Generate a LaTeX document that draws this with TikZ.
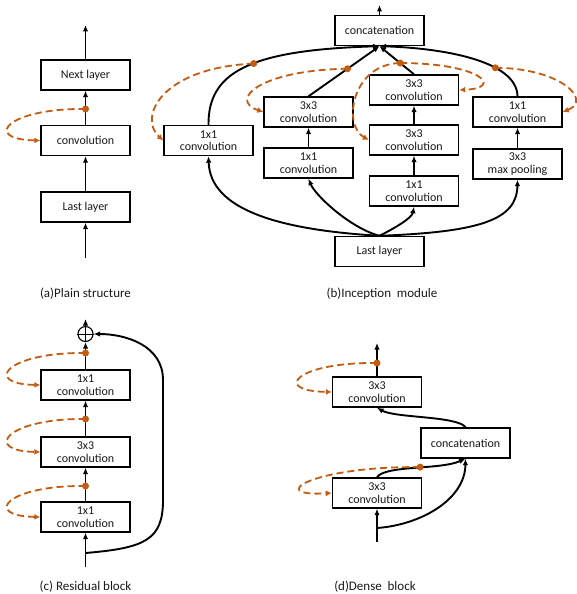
\documentclass[tikz,border=0pt]{standalone}
\usepackage{fontspec}
\setmainfont{Carlito}
\usetikzlibrary{arrows.meta}
\definecolor{fborange}{RGB}{197,90,17}

\begin{document}
\begin{tikzpicture}[x=1pt, y=-1pt,
    layer/.style={draw, line width=1.4pt, align=center, font=\fontsize{12}{12.5}\selectfont, text=black!90, minimum width=89pt, minimum height=30pt, inner sep=1pt},
    subcap/.style={font=\fontsize{13}{14}\selectfont, text=black!90},
    arr/.style={-{Latex[length=6.5pt,width=5.5pt]}, line width=1.9pt},
    fb/.style={-{Latex[length=6pt,width=6pt]}, line width=1.8pt, fborange, dash pattern=on 7pt off 4pt}
    ]
    \useasboundingbox (0,0) rectangle (576,594);

    % (a)
    \node[layer] (nextA) at (85.5,75) {Next layer};
    \node[layer] (convA) at (85.5,140.5) {convolution};
    \node[layer] (lastA) at (85.5,207) {Last layer};
    \coordinate (outA) at (85.5,25);
    \coordinate (inA) at (85.5,258);
    \coordinate (dA) at (85.5,109);
    \node[subcap] (capA) at (85.5,294) {(a)Plain structure};

    \draw[arr] (nextA) -- (outA);
    \draw[arr] (convA) -- (nextA);
    \draw[arr] (lastA) -- (convA);
    \draw[arr] (inA) -- (lastA);
    \draw[fb] (dA) .. controls (6,108) and (-18,139.5) .. (convA.west);
    \fill[fborange] (dA) circle (3.5pt);

    % (b)
    \node[layer] (concatB) at (379.5,30.5) {concatenation};
    \node[layer] (lastB) at (379.5,251.5) {Last layer};
    \node[layer] (b1) at (208.5,140.5) {1x1\\convolution};
    \node[layer] (b2a) at (308.5,163) {1x1\\convolution};
    \node[layer] (b2b) at (308.5,112) {3x3\\convolution};
    \node[layer] (b3a) at (414,191) {1x1\\convolution};
    \node[layer] (b3b) at (414,140) {3x3\\convolution};
    \node[layer] (b3c) at (414,90) {3x3\\convolution};
    \node[layer] (b4a) at (517.5,164) {3x3\\max pooling};
    \node[layer] (b4b) at (517.5,112) {1x1\\convolution};
    \coordinate (outB) at (379.5,5);
    \node[subcap] (capB) at (382,294) {(b)Inception\hspace{0.45em}module};

    \draw[arr] (concatB) -- (outB);
    \draw[arr] (lastB.north) .. controls (280,230) and (210,210) .. (b1.south);
    \draw[arr] (lastB.north) .. controls (350,228) and (315,195) .. (b2a.south);
    \draw[arr] (lastB.north) .. controls (395,228) and (412,218) .. (b3a.south);
    \draw[arr] (lastB.north) .. controls (480,232) and (517,220) .. (b4a.south);
    \draw[arr] (b2a) -- (b2b);
    \draw[arr] (b3a) -- (b3b);
    \draw[arr] (b3b) -- (b3c);
    \draw[arr] (b4a) -- (b4b);
    \draw[arr] (b1.north) .. controls (208,72) and (250,50) .. (concatB.south) coordinate[pos=0.55] (dB1);
    \draw[arr] (b2b.north) -- (concatB.south) coordinate[pos=0.55] (dB2);
    \draw[arr] (b3c.north) -- (concatB.south) coordinate[pos=0.4] (dB3);
    \draw[arr] (b4b.north) .. controls (517,60) and (440,48) .. (concatB.south) coordinate[pos=0.33] (dB4);

    \draw[fb] (dB1) .. controls (160,68) and (138,118) .. (b1.west);
    \draw[fb] (dB2) .. controls (260,70) and (228,100) .. (b2b.west);
    \draw[fb] (dB3) .. controls (352,64) and (342,125) .. (b3b.west);
    \draw[fb] (dB3) .. controls (480,63) and (505,88) .. (b3c.east);
    \draw[fb] (dB4) .. controls (560,68) and (593,100) .. (b4b.east);
    \foreach \d in {dB1,dB2,dB3,dB4}
      \fill[fborange] (\d) circle (3.5pt);

    % (c)
    \node[draw, circle, line width=1.1pt, minimum size=15pt, inner sep=0pt] (sumC) at (85.5,334) {};
    \draw[line width=0.9pt] (sumC.north) -- (sumC.south) (sumC.west) -- (sumC.east);
    \node[layer] (topC) at (85.5,385) {1x1\\convolution};
    \node[layer] (midC) at (85.5,452) {3x3\\convolution};
    \node[layer] (botC) at (85.5,517) {1x1\\convolution};
    \coordinate (outC) at (85.5,319);
    \coordinate (inC) at (85.5,567);
    \coordinate (skipC) at (85.5,553);
    \coordinate (dC1) at (85.5,353);
    \coordinate (dC2) at (85.5,419);
    \coordinate (dC3) at (85.5,486);
    \node[subcap] (capC) at (85.5,587) {(c) Residual block};

    \draw[arr] (sumC) -- (outC);
    \draw[arr] (topC) -- (sumC);
    \draw[arr] (midC) -- (topC);
    \draw[arr] (botC) -- (midC);
    \draw[arr] (inC) -- (botC);
    \draw[arr] (skipC) .. controls (145,548) and (163,540) .. (163,500) -- (163,380)
      .. controls (163,345) and (125,334) .. (sumC.east);
    \draw[fb] (dC1) .. controls (6,352) and (-18,384) .. (topC.west);
    \draw[fb] (dC2) .. controls (6,418) and (-18,451) .. (midC.west);
    \draw[fb] (dC3) .. controls (6,485) and (-18,516) .. (botC.west);
    \foreach \d in {dC1,dC2,dC3}
      \fill[fborange] (\d) circle (3.5pt);

    % (d)
    \node[layer] (topD) at (377,392) {3x3\\convolution};
    \node[layer] (concatD) at (465.5,443) {concatenation};
    \node[layer] (botD) at (377,493) {3x3\\convolution};
    \coordinate (outD) at (377,343);
    \coordinate (inD) at (377,542);
    \coordinate (skipD) at (377,528);
    \coordinate (dD1) at (377,363);
    \node[subcap] (capD) at (375,587) {(d)Dense\hspace{0.45em}block};

    \draw[arr] (topD) -- (outD);
    \draw[arr] (inD) -- (botD);
    \draw[arr] (skipD) .. controls (420,525) and (465,500) .. (concatD.south);
    \draw[arr] (botD.north) .. controls (385,465) and (440,470) .. (concatD.south) coordinate[pos=0.55] (dD2);
    \draw[arr] (concatD.north) .. controls (458,416) and (395,418) .. (topD.south);
    \draw[fb] (dD1) .. controls (296,362) and (271,391) .. (topD.west);
    \draw[fb] (dD2) .. controls (310,466) and (265,497) .. (botD.west);
    \foreach \d in {dD1,dD2}
      \fill[fborange] (\d) circle (3.5pt);
\end{tikzpicture}
\end{document}
